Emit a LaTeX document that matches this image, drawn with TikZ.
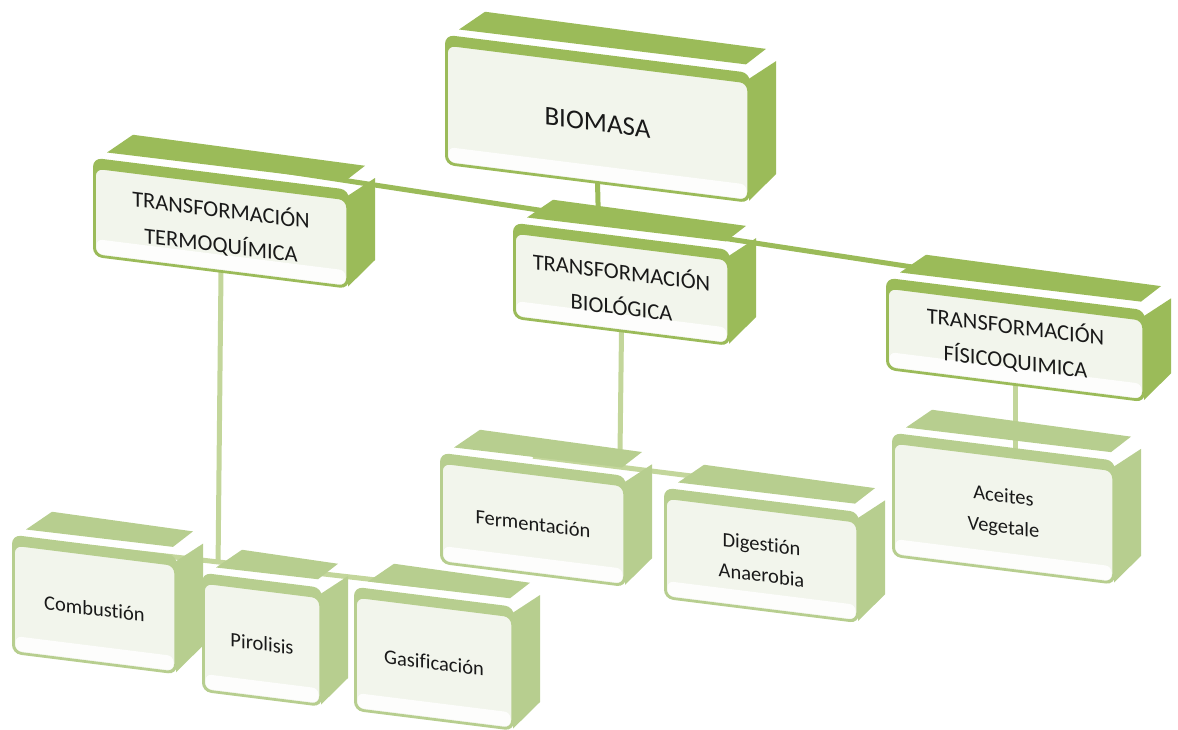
\documentclass[tikz,border=0pt]{standalone}
\usepackage{fontspec}
\setmainfont{Carlito}[Ligatures={NoCommon}]
\usepackage{tikz}
\pgfdeclarelayer{back}
\pgfsetlayers{back,main}

\definecolor{darkleaf}{HTML}{9BBB59}
\definecolor{paleleaf}{HTML}{B7CE8F}
\definecolor{facefill}{HTML}{F2F5EC}
\definecolor{sublinecol}{HTML}{C3D69B}

% 3D box: name, left, top, width, height, colour, font, text
\newcommand{\sabox}[8]{%
  \begin{scope}[shift={(#2,-#3)},yslant=-0.125]
    \fill[#6] (12,17) -- (38,38) -- (#4+18,36) -- (#4-2,18) -- cycle;
    \fill[#6] (#4+1,4) -- (#4+28,25) -- (#4+28,-#5+30) -- (#4+1,-#5) -- cycle;
    \fill[#6,rounded corners=9pt] (-2,10) rectangle (#4+2,-#5-2);
    \filldraw[fill=facefill,draw=#6,line width=1.5pt,rounded corners=8pt] (0,0) rectangle (#4,-#5);
    \fill[white!85!facefill,rounded corners=6pt] (1.5,-#5+16) rectangle (#4-1.5,-#5+1.5);
    \node[boxtext,minimum width=#4pt,minimum height=#5pt,font=#7] (#1) at (#4/2,-#5/2) {#8};
  \end{scope}}

\begin{document}
\begin{tikzpicture}[x=1pt,y=1pt,
    boxtext/.style={transform shape,align=center,inner sep=0pt,text=black!90},
    toplink/.style={darkleaf,line width=5pt},
    sublink/.style={sublinecol,line width=5pt}]
        \useasboundingbox (0,0) rectangle (1178,-729);

        % Level 0 and 1
        \sabox{bio}{447}{45}{301}{118}{darkleaf}{\fontsize{27}{32}\selectfont}{BIOMASA}
        \sabox{termo}{95}{168}{252}{87}{darkleaf}{\fontsize{22.5}{35}\selectfont}{TRANSFORMACIÓN\\TERMOQUÍMICA}
        \sabox{biol}{515}{233}{213}{84}{darkleaf}{\fontsize{22.5}{35}\selectfont}{TRANSFORMACIÓN\\BIOLÓGICA}
        \sabox{fis}{888}{288}{255}{80}{darkleaf}{\fontsize{22.5}{35}\selectfont}{TRANSFORMACIÓN\\FÍSICOQUIMICA}

        % Level 2
        \sabox{comb}{14}{545}{161}{107}{paleleaf}{\fontsize{20.5}{31}\selectfont}{Combustión}
        \sabox{pir}{204}{583}{116}{107}{paleleaf}{\fontsize{20.5}{31}\selectfont}{Pirolisis}
        \sabox{gas}{356}{597}{156}{112}{paleleaf}{\fontsize{20.5}{31}\selectfont}{Gasificación}
        \sabox{fer}{442}{463}{182}{99}{paleleaf}{\fontsize{20.5}{31}\selectfont}{Fermentación}
        \sabox{dig}{666}{498}{191}{99}{paleleaf}{\fontsize{20.5}{31}\selectfont}{Digestión\\Anaerobia}
        \sabox{ace}{894}{443}{219}{112}{paleleaf}{\fontsize{20.5}{31}\selectfont}{Aceites\\Vegetale}

        % connectors, behind the boxes
        \begin{pgfonlayer}{back}
        \draw[toplink] ([yshift=22pt]termo.north) -- coordinate[pos=0.475] (j0) ([yshift=21pt]fis.north);
        \draw[toplink] (bio.south) -- (j0);
        \draw[sublink] ([yshift=7pt]comb.north) -- coordinate[pos=0.364] (j2) ([yshift=20pt]gas.north);
        \draw[sublink] (termo.south) -- (j2);
        \draw[sublink] ([yshift=18pt]fer.north) -- coordinate[pos=0.38] (j1) ([yshift=25pt]dig.north);
        \draw[sublink] (biol.south) -- (j1);
        \draw[sublink] (fis.south) -- (fis.south |- ace.north);
        \end{pgfonlayer}
    \end{tikzpicture}
\end{document}
